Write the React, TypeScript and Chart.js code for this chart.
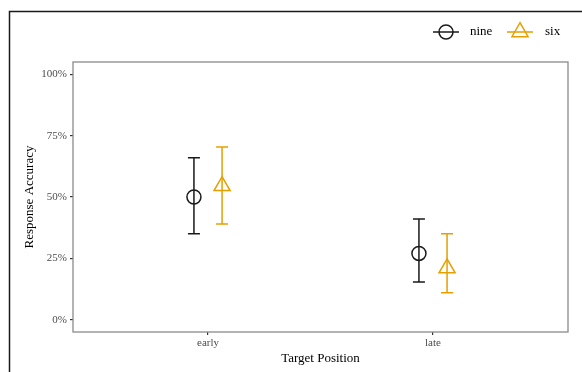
import React, { useEffect, useRef } from "react";
import { Chart, registerables } from "chart.js";

Chart.register(...registerables);

const categories = ["early", "late"];
const seriesNames = ["nine", "six"];
const nineMean = [50, 27];
const nineLow = [35, 15.4];
const nineHigh = [66, 41];
const sixMean = [54.5, 21];
const sixLow = [39, 11];
const sixHigh = [70.4, 35];
const yTicks = [0, 25, 50, 75, 100];

const NINE_COLOR = "#1a1a1a";
const SIX_COLOR = "#E69F00";
const DODGE = 0.0625;
const FONT = "'Liberation Serif', 'DejaVu Serif', serif";

export default function App() {
  const ref = useRef<HTMLCanvasElement | null>(null);

  useEffect(() => {
    if (!ref.current) return;
    const series = [
      { name: seriesNames[0], mean: nineMean, low: nineLow, high: nineHigh, color: NINE_COLOR, style: "circle", radius: 7, off: -DODGE },
      { name: seriesNames[1], mean: sixMean, low: sixLow, high: sixHigh, color: SIX_COLOR, style: "triangle", radius: 9.3, off: DODGE },
    ];

    const errorBars = {
      id: "errorBars",
      beforeDraw(chart: any) {
        const ctx = chart.ctx;
        ctx.save();
        // outer frame
        ctx.strokeStyle = "#1a1a1a";
        ctx.lineWidth = 1.5;
        ctx.beginPath();
        ctx.moveTo(9.5, 372);
        ctx.lineTo(9.5, 11.5);
        ctx.lineTo(582, 11.5);
        ctx.stroke();
        ctx.restore();
      },
      beforeDatasetsDraw(chart: any) {
        const ctx = chart.ctx;
        const xs = chart.scales.x;
        const ys = chart.scales.y;
        ctx.save();
        series.forEach((s) => {
          ctx.strokeStyle = s.color;
          ctx.lineWidth = 1.5;
          categories.forEach((_, i) => {
            const px = xs.getPixelForValue(i + 1 + s.off);
            const pl = ys.getPixelForValue(s.low[i]);
            const ph = ys.getPixelForValue(s.high[i]);
            ctx.beginPath();
            ctx.moveTo(px, pl);
            ctx.lineTo(px, ph);
            ctx.moveTo(px - 6, pl);
            ctx.lineTo(px + 6, pl);
            ctx.moveTo(px - 6, ph);
            ctx.lineTo(px + 6, ph);
            ctx.stroke();
          });
        });
        ctx.restore();
      },
      afterDraw(chart: any) {
        const ctx = chart.ctx;
        const a = chart.chartArea;
        ctx.save();
        ctx.strokeStyle = "#8a8a8a";
        ctx.lineWidth = 1.3;
        ctx.strokeRect(a.left, a.top, a.right - a.left, a.bottom - a.top);

        // legend
        const ly = 32;
        const items = [
          { s: series[0], cx: 446, tx: 470 },
          { s: series[1], cx: 520, tx: 545 },
        ];
        items.forEach(({ s, cx, tx }) => {
          ctx.strokeStyle = s.color;
          ctx.lineWidth = 1.5;
          ctx.beginPath();
          ctx.moveTo(cx - 13, ly);
          ctx.lineTo(cx + 13, ly);
          ctx.stroke();
          ctx.beginPath();
          if (s.style === "circle") {
            ctx.arc(cx, ly, 7, 0, Math.PI * 2);
          } else {
            const r = 9.3;
            ctx.moveTo(cx, ly - r);
            ctx.lineTo(cx + r * 0.866, ly + r / 2);
            ctx.lineTo(cx - r * 0.866, ly + r / 2);
            ctx.closePath();
          }
          ctx.stroke();
          ctx.fillStyle = "#000";
          ctx.font = "13px " + FONT;
          ctx.textBaseline = "middle";
          ctx.textAlign = "left";
          ctx.fillText(s.name, tx, ly);
        });
        ctx.restore();
      },
    };

    const chart = new Chart(ref.current, {
      type: "scatter",
      data: {
        datasets: series.map((s) => ({
          label: s.name,
          data: s.mean.map((v, i) => ({ x: i + 1 + s.off, y: v })),
          pointStyle: s.style as any,
          pointRadius: s.radius,
          pointHoverRadius: s.radius,
          borderColor: s.color,
          backgroundColor: "rgba(0,0,0,0)",
          borderWidth: 1.5,
          showLine: false,
        })),
      },
      options: {
        animation: false,
        responsive: false,
        devicePixelRatio: 1,
        layout: { padding: { top: 62, right: 14, left: 0, bottom: 0 } },
        plugins: { legend: { display: false }, tooltip: { enabled: false } },
        scales: {
          x: {
            type: "linear",
            min: 0.4,
            max: 2.6,
            afterBuildTicks: (sc: any) => {
              sc.ticks = categories.map((_, i) => ({ value: i + 1 }));
            },
            afterFit: (sc: any) => {
              sc.height = 40;
            },
            ticks: {
              callback: (v: any) => categories[Math.round(Number(v)) - 1] ?? "",
              font: { family: FONT, size: 11 },
              color: "#4d4d4d",
              padding: 2,
              maxRotation: 0,
              autoSkip: false,
            },
            grid: { drawOnChartArea: false, drawTicks: true, tickLength: 3, color: "#333", lineWidth: 1.2 },
            border: { display: false },
            title: {
              display: true,
              text: "Target Position",
              font: { family: FONT, size: 13 },
              color: "#000",
              padding: { top: 0, bottom: 5.5 },
            },
          },
          y: {
            min: -5,
            max: 105,
            afterBuildTicks: (sc: any) => {
              sc.ticks = yTicks.map((v) => ({ value: v }));
            },
            afterFit: (sc: any) => {
              sc.width = 73;
            },
            ticks: {
              callback: (v: any) => v + "%",
              font: { family: FONT, size: 11 },
              color: "#4d4d4d",
              padding: 3,
              autoSkip: false,
            },
            grid: { drawOnChartArea: false, drawTicks: true, tickLength: 3, color: "#333", lineWidth: 1.2 },
            border: { display: false },
            title: {
              display: true,
              text: "Response Accuracy",
              font: { family: FONT, size: 13 },
              color: "#000",
              padding: { top: 22, bottom: 0 },
            },
          },
        },
      },
      plugins: [errorBars],
    });
    return () => chart.destroy();
  }, []);

  return (
    <div style={{ position: "fixed", left: 0, top: 0, width: 582, height: 372, background: "#fff" }}>
      <canvas ref={ref} width={582} height={372} style={{ display: "block" }} />
    </div>
  );
}
